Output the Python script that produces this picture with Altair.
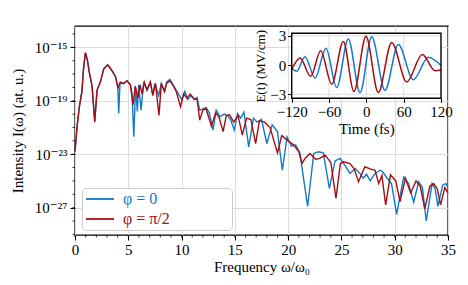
import altair as alt
import pandas as pd

FONT = "Liberation Serif, DejaVu Serif, serif"

series_names = ["φ = 0", "φ = π/2"]
series_colors = ["#1479c9", "#a50d12"]

# Spectrum, phi = 0 : frequency (omega/omega0) and log10 intensity
omega_phi0 = [0.0, 0.2, 0.4, 0.65, 0.8, 0.97, 1.15, 1.35, 1.6, 1.85, 2.07, 2.38, 2.7, 3.07, 3.47,
              3.8, 4.02, 4.1, 4.22, 4.57, 4.88, 5.19, 5.35, 5.52, 5.68, 5.85, 5.97, 6.2, 6.45, 6.76,
              7.07, 7.3, 7.5, 7.85, 8.1, 8.4, 8.6, 8.9, 9.2, 9.5, 10.0, 10.3, 10.6, 10.9, 11.2,
              11.45, 11.7, 12.0, 12.3, 12.6, 12.95, 13.25, 13.6, 14.0, 14.3, 14.6, 14.95, 15.25,
              15.55, 15.85, 16.3, 16.75, 17.1, 17.5, 18.0, 18.5, 19.0, 19.45, 19.9, 20.3, 20.7,
              21.1, 21.83, 22.4, 22.84, 23.3, 23.87, 24.4, 24.87, 25.3, 25.8, 26.3, 26.7, 27.05,
              27.35, 27.7, 28.1, 28.6, 28.85, 29.3, 29.7, 30.18, 30.84, 31.3, 31.78, 32.25, 32.6,
              32.96, 33.5, 33.8, 34.05, 34.5, 34.8, 35.0]
log_I_phi0 = [-22.8, -20.9, -19.5, -18.3, -16.6, -15.4, -15.9, -16.9, -17.9, -20.5, -18.2, -17.6,
              -16.6, -16.3, -16.75, -17.2, -18.0, -19.95, -17.7, -17.7, -17.5, -17.8, -18.4, -21.7,
              -18.0, -19.8, -17.8, -19.7, -17.6, -18.2, -17.6, -18.6, -17.7, -18.6, -17.7, -18.3,
              -17.6, -17.4, -17.8, -18.2, -18.9, -18.3, -18.9, -18.6, -18.9, -18.75, -19.7, -19.6,
              -19.5, -19.9, -21.2, -19.7, -20.2, -20.0, -20.1, -20.4, -21.2, -19.95, -20.3, -19.85,
              -22.45, -20.3, -20.6, -20.4, -22.2, -20.8, -21.3, -24.2, -21.7, -22.4, -22.3, -22.9,
              -26.9, -22.94, -22.82, -22.9, -25.56, -23.5, -23.32, -23.8, -24.44, -24.07, -24.4,
              -24.8, -24.5, -25.0, -24.5, -24.2, -24.3, -24.8, -25.2, -27.5, -24.7, -25.2, -26.6,
              -25.07, -25.5, -28.0, -25.2, -25.6, -26.9, -25.3, -25.2, -25.5]

# Spectrum, phi = pi/2
omega_phi90 = [0.0, 0.2, 0.4, 0.65, 0.8, 0.97, 1.15, 1.35, 1.6, 1.85, 2.07, 2.38, 2.7, 3.07, 3.47,
               3.8, 4.03, 4.25, 4.57, 4.88, 5.19, 5.45, 5.65, 5.9, 6.1, 6.3, 6.5, 6.76, 7.07, 7.3,
               7.55, 7.88, 8.1, 8.4, 8.6, 8.9, 9.2, 9.5, 9.9, 10.2, 10.5, 10.8, 11.2, 11.45, 11.7,
               12.0, 12.3, 12.8, 13.2, 13.5, 13.9, 14.2, 14.5, 14.9, 15.3, 15.7, 16.1, 16.5, 16.95,
               17.3, 17.8, 18.3, 19.0, 19.4, 20.0, 20.5, 21.0, 21.3, 21.6, 22.05, 22.6, 23.0, 23.46,
               24.0, 24.49, 24.9, 25.2, 25.8, 26.2, 26.6, 27.2, 27.7, 28.15, 28.5, 28.8, 29.15,
               29.6, 30.1, 30.5, 31.0, 31.5, 32.0, 32.4, 32.82, 33.3, 33.65, 34.0, 34.3, 34.7, 35.0]
log_I_phi90 = [-22.8, -20.9, -19.5, -18.3, -16.6, -15.4, -15.9, -16.9, -17.9, -20.6, -18.2, -17.6,
               -16.6, -16.3, -16.75, -17.2, -18.0, -17.6, -17.7, -17.5, -17.8, -19.3, -17.9, -18.8,
               -17.8, -18.5, -17.6, -18.2, -17.6, -18.6, -17.7, -20.1, -17.7, -18.3, -17.7, -17.5,
               -17.85, -18.3, -19.45, -18.5, -18.8, -18.5, -18.9, -18.85, -20.45, -19.7, -19.6,
               -20.9, -19.9, -20.2, -21.3, -20.1, -20.05, -20.6, -20.1, -21.57, -20.3, -20.4, -22.2,
               -20.5, -20.6, -21.0, -22.9, -21.6, -22.0, -22.3, -22.8, -23.7, -23.3, -22.94, -23.4,
               -23.3, -23.07, -23.6, -26.3, -23.7, -23.57, -23.7, -24.1, -25.07, -23.94, -24.1,
               -24.2, -25.2, -24.6, -26.8, -24.55, -25.0, -26.55, -24.8, -25.9, -25.0, -25.4,
               -27.1, -25.4, -25.2, -25.6, -26.8, -25.5, -25.9]

# Inset: electric field E(t) in MV/cm (extrema)
t_phi0 = [-120, -112, -98.6, -82.5, -64.9, -47.7, -29, -10.2, 8.6, 30, 51.4, 75.5, 99.6, 120]
E_phi0 = [-0.35, -0.64, 0.85, -1.33, 1.72, -2.3, 2.66, -2.84, 2.89, -2.6, 2.1, -1.5, 0.8, -0.05]
t_phi90 = [-120, -106.6, -89.5, -73.4, -55.7, -37, -19.9, -0.6, 19.2, 40.7, 64.9, 89.9, 110.4, 120]
E_phi90 = [-0.45, 0.72, -1.16, 1.47, -1.97, 2.42, -2.72, 2.94, -2.82, 2.32, -1.74, 1.07, -0.58, -0.5]

x_major = [0, 5, 10, 15, 20, 25, 30, 35]
x_minor = list(range(0, 36))
y_major_exp = [-27, -23, -19, -15]
y_major_labels = ["10⁻²⁷", "10⁻²³", "10⁻¹⁹", "10⁻¹⁵"]
y_minor_exp = list(range(-29, -13))
t_ticks = [-120, -60, 0, 60, 120]
E_ticks = [-3, 0, 3]
t_domain = [-120, 120]
E_domain = [-3.41, 3.25]

W, H = 373, 209
GRID = "#dcdcdc"

main_df = pd.DataFrame({
    "omega": omega_phi0 + omega_phi90,
    "I": [10 ** v for v in log_I_phi0 + log_I_phi90],
    "series": [series_names[0]] * len(omega_phi0) + [series_names[1]] * len(omega_phi90),
})

x_scale = alt.Scale(domain=[0, 35], range=[0, W], nice=False, zero=False)
y_scale = alt.Scale(type="log", domain=[10 ** -29.05, 10 ** -13.4], range=[H, 0], nice=False)

label_expr = " : ".join(
    f"abs(log(datum.value)/LN10 - ({e})) < 0.01 ? '{lab}'" for e, lab in zip(y_major_exp, y_major_labels)
) + " : ''"

color_expr = f"datum.value === '{series_names[0]}' ? '{series_colors[0]}' : '{series_colors[1]}'"
blank = "\u2800" * 5

lines = alt.Chart(main_df).mark_line(strokeWidth=1.4).encode(
    x=alt.X("omega:Q", scale=x_scale,
            axis=alt.Axis(orient="bottom", values=x_major, title="Frequency ω/ω₀", grid=True,
                          gridColor=GRID, domain=False, tickSize=5, labelPadding=2, titlePadding=2,
                          labelFlush=False)),
    y=alt.Y("I:Q", scale=y_scale,
            axis=alt.Axis(orient="left", values=[10 ** e for e in y_major_exp], labelExpr=label_expr,
                          title="Intensity I(ω) (at. u.)", grid=True, gridColor=GRID, domain=False,
                          tickSize=5, labelPadding=3, titlePadding=9, labelFlush=False)),
    color=alt.Color("series:N", scale=alt.Scale(domain=series_names, range=series_colors),
                    legend=alt.Legend(title=None, orient="none", legendX=7, legendY=162,
                                      fillColor="white", strokeColor="#cccccc", cornerRadius=4,
                                      padding=3, symbolType="M-1,0H3", symbolSize=196,
                                      symbolStrokeWidth=1.8, labelOffset=22, rowPadding=4,
                                      labelFontSize=16, labelFont=FONT, labelLimit=300,
                                      labelExpr=f"datum.label + '{blank}'",
                                      labelColor=alt.ExprRef(expr=color_expr))),
)

minor_x = alt.Chart(pd.DataFrame({"v": x_minor})).mark_rule(color="black", strokeWidth=0.8).encode(
    x=alt.X("v:Q", scale=x_scale, axis=None), y=alt.value(H), y2=alt.value(H + 2.5))
minor_y = alt.Chart(pd.DataFrame({"v": [10 ** e for e in y_minor_exp]})).mark_rule(
    color="black", strokeWidth=0.8).encode(
    y=alt.Y("v:Q", scale=y_scale, axis=None), x=alt.value(0), x2=alt.value(-2.5))

# ---- inset ----
ix_scale = alt.Scale(domain=t_domain, range=[216.7, 366.0], nice=False, zero=False)
iy_scale = alt.Scale(domain=E_domain, range=[72.3, 7.3], nice=False, zero=False)

frame_df = pd.DataFrame({"t1": [t_domain[0]], "t2": [t_domain[1]], "e1": [E_domain[0]], "e2": [E_domain[1]]})
frame_bg = alt.Chart(frame_df).mark_rect(fill="white", strokeWidth=0).encode(
    x=alt.X("t1:Q", scale=ix_scale,
            axis=alt.Axis(orient="bottom", offset=72.3 - H, values=t_ticks, title="Time (fs)",
                          grid=False, domain=False, tickSize=4, labelPadding=2, titlePadding=2,
                          labelFlush=False)),
    x2="t2:Q",
    y=alt.Y("e1:Q", scale=iy_scale,
            axis=alt.Axis(orient="left", offset=-216.7, values=E_ticks, title="E(t) (MV/cm)",
                          titleFontSize=13, grid=False, domain=False, tickSize=4, labelPadding=2,
                          titlePadding=2, labelFlush=False)),
    y2="e2:Q",
)
grid_v = alt.Chart(pd.DataFrame({"t": t_ticks[1:-1], "e1": E_domain[0], "e2": E_domain[1]})).mark_rule(
    color=GRID, strokeWidth=1).encode(
    x=alt.X("t:Q", scale=ix_scale, axis=None), y=alt.Y("e1:Q", scale=iy_scale, axis=None), y2="e2:Q")
grid_h = alt.Chart(pd.DataFrame({"e": E_ticks, "t1": t_domain[0], "t2": t_domain[1]})).mark_rule(
    color=GRID, strokeWidth=1).encode(
    y=alt.Y("e:Q", scale=iy_scale, axis=None), x=alt.X("t1:Q", scale=ix_scale, axis=None), x2="t2:Q")
inset_0 = alt.Chart(pd.DataFrame({"t": t_phi0, "E": E_phi0})).mark_line(
    color=series_colors[0], strokeWidth=1.5, interpolate="monotone").encode(
    x=alt.X("t:Q", scale=ix_scale, axis=None), y=alt.Y("E:Q", scale=iy_scale, axis=None))
inset_1 = alt.Chart(pd.DataFrame({"t": t_phi90, "E": E_phi90})).mark_line(
    color=series_colors[1], strokeWidth=1.5, interpolate="monotone").encode(
    x=alt.X("t:Q", scale=ix_scale, axis=None), y=alt.Y("E:Q", scale=iy_scale, axis=None))
frame_border = alt.Chart(frame_df).mark_rect(fill=None, fillOpacity=0, stroke="black", strokeWidth=1.4).encode(
    x=alt.X("t1:Q", scale=ix_scale, axis=None), x2="t2:Q",
    y=alt.Y("e1:Q", scale=iy_scale, axis=None), y2="e2:Q")

chart = alt.layer(
    lines, minor_x, minor_y, frame_bg, grid_v, grid_h, inset_0, inset_1, frame_border
).resolve_scale(
    x="independent", y="independent"
).properties(
    width=W, height=H,
    padding={"left": 67, "top": 18, "right": 12, "bottom": 42},
    autosize=alt.AutoSizeParams(type="none"),
).configure_view(
    stroke="black", strokeWidth=1.4
).configure_axis(
    labelFont=FONT, titleFont=FONT, labelFontSize=15, titleFontSize=15,
    titleFontWeight="normal", labelColor="black", titleColor="black", tickColor="black",
)

chart.save("out.html", embed_options={"renderer": "svg", "actions": False})
